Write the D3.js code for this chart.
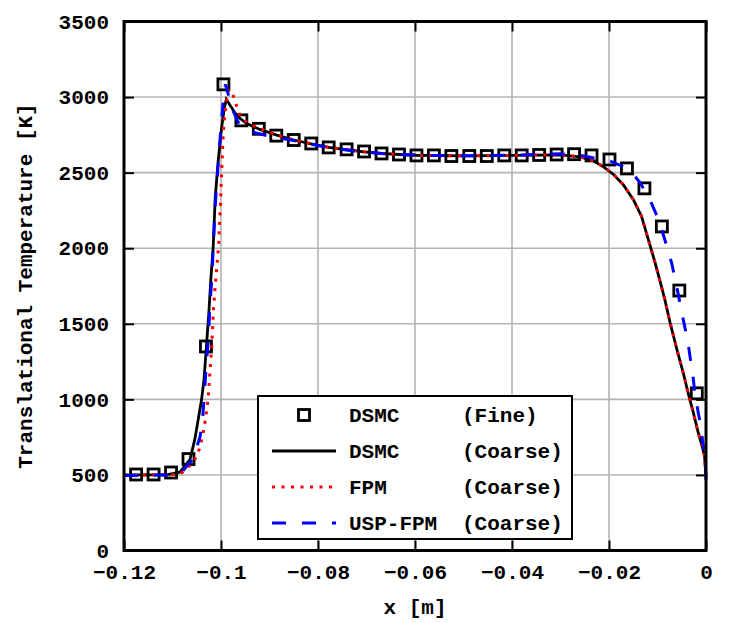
<!DOCTYPE html>
<html><head><meta charset="utf-8">
<script src="https://cdn.jsdelivr.net/npm/d3@7"></script>
<style>
body{margin:0;background:#fff}
svg{display:block}
text{font-family:"Liberation Mono","Courier New",monospace;font-weight:bold;fill:#000}
</style>
</head><body>
<svg id="chart" width="747" height="623"></svg>
<script>
// ---- data ----
const xTicks = [-0.12, -0.1, -0.08, -0.06, -0.04, -0.02, 0];
const xTickLabels = ["\u22120.12", "\u22120.1", "\u22120.08", "\u22120.06", "\u22120.04", "\u22120.02", "0"];
const yTicks = [0, 500, 1000, 1500, 2000, 2500, 3000, 3500];
const yTickLabels = ["0", "500", "1000", "1500", "2000", "2500", "3000", "3500"];

const fineX = [-0.1175,-0.1139,-0.1103,-0.1067,-0.1031,-0.0995,-0.0958,-0.0922,-0.0886,-0.0850,-0.0814,-0.0778,-0.0741,-0.0705,-0.0669,-0.0633,-0.0597,-0.0561,-0.0525,-0.0488,-0.0452,-0.0416,-0.0380,-0.0344,-0.0308,-0.0272,-0.0236,-0.0199,-0.0163,-0.0127,-0.0091,-0.0055,-0.0019];
const fineT = [503,503,516,605,1350,3084,2846,2790,2745,2716,2693,2667,2654,2640,2627,2620,2614,2614,2610,2610,2610,2614,2614,2617,2620,2622,2614,2587,2528,2396,2144,1720,1040];

const dsmcCoarseX = [-0.1200,-0.1150,-0.1110,-0.1085,-0.1064,-0.1054,-0.1047,-0.1040,-0.1035,-0.1030,-0.1025,-0.1021,-0.1016,-0.1012,-0.1006,-0.0999,-0.0993,-0.0989,-0.0981,-0.0971,-0.0961,-0.0947,-0.0920,-0.0885,-0.0850,-0.0814,-0.0778,-0.0741,-0.0705,-0.0669,-0.0633,-0.0597,-0.0550,-0.0500,-0.0450,-0.0400,-0.0350,-0.0301,-0.0260,-0.0232,-0.0212,-0.0191,-0.0171,-0.0150,-0.0133,-0.0119,-0.0105,-0.0095,-0.0085,-0.0074,-0.0060,-0.0047,-0.0037,-0.0026,-0.0016,-0.0008,-0.0003,0];
const dsmcCoarseT = [500,500,502,518,602,735,867,1000,1132,1352,1575,1793,2013,2330,2570,2790,2930,2985,2945,2895,2860,2825,2786,2748,2716,2690,2667,2652,2638,2627,2620,2615,2612,2611,2612,2614,2616,2618,2605,2577,2540,2489,2422,2323,2212,2058,1904,1785,1661,1507,1330,1176,1044,911,779,690,625,480];

const fpmX = [-0.1200,-0.1150,-0.1100,-0.1080,-0.1068,-0.1054,-0.1045,-0.1038,-0.1031,-0.1026,-0.1023,-0.1019,-0.1016,-0.1012,-0.1005,-0.1001,-0.0998,-0.0995,-0.0990,-0.0985,-0.0978,-0.0971,-0.0965,-0.0959,-0.0949,-0.0934,-0.0906,-0.0885,-0.0850,-0.0814,-0.0778,-0.0741,-0.0705,-0.0669,-0.0633,-0.0597,-0.0550,-0.0500,-0.0450,-0.0400,-0.0350,-0.0301,-0.0260,-0.0232,-0.0212,-0.0191,-0.0171,-0.0150,-0.0133,-0.0119,-0.0105,-0.0095,-0.0085,-0.0074,-0.0060,-0.0047,-0.0037,-0.0026,-0.0016,-0.0008,-0.0003,0];
const fpmT = [500,500,502,515,549,602,668,757,889,1021,1178,1352,1575,1750,2013,2300,2560,2780,2950,3045,3040,2975,2910,2870,2840,2812,2775,2750,2716,2690,2667,2652,2638,2627,2620,2615,2612,2611,2612,2614,2616,2618,2605,2577,2540,2489,2422,2323,2212,2058,1904,1785,1661,1507,1330,1176,1044,911,779,690,625,480];

const uspFpmX = [-0.1200,-0.1150,-0.1100,-0.1080,-0.1068,-0.1058,-0.1043,-0.1038,-0.1035,-0.1030,-0.1026,-0.1023,-0.1019,-0.1012,-0.1006,-0.1001,-0.0995,-0.0991,-0.0981,-0.0975,-0.0964,-0.0951,-0.0930,-0.0900,-0.0850,-0.0814,-0.0778,-0.0741,-0.0705,-0.0669,-0.0633,-0.0597,-0.0550,-0.0500,-0.0450,-0.0400,-0.0350,-0.0301,-0.0260,-0.0233,-0.0198,-0.0174,-0.0153,-0.0136,-0.0116,-0.0098,-0.0085,-0.0071,-0.0060,-0.0047,-0.0037,-0.0031,-0.0026,-0.0023,-0.0016,-0.0012,-0.0006,-0.0002,0];
const uspFpmT = [497,497,500,520,569,602,754,867,1000,1244,1396,1617,1793,2279,2544,2764,2985,3084,2974,2908,2831,2798,2765,2740,2712,2688,2665,2650,2637,2626,2620,2616,2613,2612,2613,2616,2620,2625,2614,2598,2577,2544,2500,2434,2323,2191,2058,1904,1740,1529,1374,1240,1130,1044,911,845,701,625,460];

const legendNames = ["DSMC", "DSMC", "FPM", "USP-FPM"];
const legendGrids = ["(Fine)", "(Coarse)", "(Coarse)", "(Coarse)"];

// ---- chart ----
const svg = d3.select("#chart");
const W = 747, H = 623;
svg.append("rect").attr("width", W).attr("height", H).attr("fill", "#fff");

const x = d3.scaleLinear().domain([-0.12, 0]).range([124, 706]);
const y = d3.scaleLinear().domain([0, 3500]).range([550.5, 21.5]);
const [x0, x1] = x.range();
const [y0, y1] = y.range();

// grid
const grid = svg.append("g").attr("stroke", "#b4b4b4").attr("stroke-width", 1.6);
grid.selectAll(".gx").data(xTicks.slice(1, -1)).join("line")
  .attr("x1", d => x(d)).attr("x2", d => x(d)).attr("y1", y1).attr("y2", y0);
grid.selectAll(".gy").data(yTicks.slice(1, -1)).join("line")
  .attr("y1", d => y(d)).attr("y2", d => y(d)).attr("x1", x0).attr("x2", x1);

// axes with inward ticks
const fmtX = (d, i) => xTickLabels[i];
const fmtY = (d, i) => yTickLabels[i];
const tick = 10;
const axB = svg.append("g").attr("transform", `translate(0,${y0})`)
  .call(d3.axisBottom(x).tickValues(xTicks).tickFormat(fmtX).tickSizeInner(-tick).tickSizeOuter(0).tickPadding(14));
const axT = svg.append("g").attr("transform", `translate(0,${y1})`)
  .call(d3.axisTop(x).tickValues(xTicks).tickFormat("").tickSizeInner(-tick).tickSizeOuter(0));
const axL = svg.append("g").attr("transform", `translate(${x0},0)`)
  .call(d3.axisLeft(y).tickValues(yTicks).tickFormat(fmtY).tickSizeInner(-tick).tickSizeOuter(0).tickPadding(15));
const axR = svg.append("g").attr("transform", `translate(${x1},0)`)
  .call(d3.axisRight(y).tickValues(yTicks).tickFormat("").tickSizeInner(-tick).tickSizeOuter(0));
[axB, axT, axL, axR].forEach(a => {
  a.select(".domain").remove();
  a.selectAll(".tick line").attr("stroke", "#000").attr("stroke-width", 2);
  a.selectAll(".tick text").attr("font-size", 21).attr("font-family", "'Liberation Mono','Courier New',monospace").attr("font-weight", "bold").attr("fill", "#000");
});
axB.selectAll(".tick text").attr("dy", "0.71em");

// series
const line = d3.line().x(d => x(d[0])).y(d => y(d[1]));
const plotG = svg.append("g");

const fine = fineX.map((v, i) => [v, fineT[i]]);
const sq = 11;
plotG.selectAll(".sq").data(fine).join("rect")
  .attr("x", d => x(d[0]) - sq / 2).attr("y", d => y(d[1]) - sq / 2)
  .attr("width", sq).attr("height", sq)
  .attr("fill", "none").attr("stroke", "#000").attr("stroke-width", 2.8);

plotG.append("path").datum(dsmcCoarseX.map((v, i) => [v, dsmcCoarseT[i]]))
  .attr("d", line).attr("fill", "none").attr("stroke", "#000").attr("stroke-width", 2.8);
plotG.append("path").datum(fpmX.map((v, i) => [v, fpmT[i]]))
  .attr("d", line).attr("fill", "none").attr("stroke", "#ff0000").attr("stroke-width", 3).attr("stroke-dasharray", "3,6.5");
plotG.append("path").datum(uspFpmX.map((v, i) => [v, uspFpmT[i]]))
  .attr("d", line).attr("fill", "none").attr("stroke", "#0000ff").attr("stroke-width", 3).attr("stroke-dasharray", "14,16");

// frame
svg.append("rect").attr("x", x0).attr("y", y1).attr("width", x1 - x0).attr("height", y0 - y1)
  .attr("fill", "none").attr("stroke", "#000").attr("stroke-width", 3);

// legend
const lg = svg.append("g");
lg.append("rect").attr("x", 258).attr("y", 396).attr("width", 314).attr("height", 143)
  .attr("fill", "#fff").attr("stroke", "#000").attr("stroke-width", 2);
const rowY = [415, 451, 487, 523];
const styles = [
  null,
  {stroke: "#000", dash: null},
  {stroke: "#ff0000", dash: "3,6.5"},
  {stroke: "#0000ff", dash: "14,16"}
];
rowY.forEach((ry, i) => {
  if (i === 0) {
    lg.append("rect").attr("x", 304 - sq / 2).attr("y", ry - sq / 2).attr("width", sq).attr("height", sq)
      .attr("fill", "none").attr("stroke", "#000").attr("stroke-width", 2.8);
  } else {
    const p = lg.append("line").attr("x1", 272).attr("x2", 336).attr("y1", ry).attr("y2", ry)
      .attr("stroke", styles[i].stroke).attr("stroke-width", 3);
    if (styles[i].dash) p.attr("stroke-dasharray", styles[i].dash);
  }
  lg.append("text").attr("x", 349).attr("y", ry).attr("dy", "0.35em").attr("font-size", 21).text(legendNames[i]);
  lg.append("text").attr("x", 462).attr("y", ry).attr("dy", "0.35em").attr("font-size", 21).text(legendGrids[i]);
});

// axis titles
svg.append("text").attr("x", (x0 + x1) / 2).attr("y", 607).attr("dy", "0.35em")
  .attr("text-anchor", "middle").attr("font-size", 21).text("x [m]");
svg.append("text").attr("transform", `translate(25,${(y0 + y1) / 2}) rotate(-90)`)
  .attr("dy", "0.35em").attr("text-anchor", "middle").attr("font-size", 21).text("Translational Temperature [K]");
</script>
</body></html>
